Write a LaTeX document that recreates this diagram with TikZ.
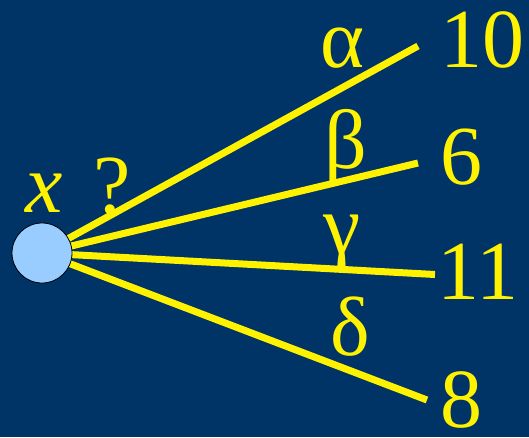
\documentclass[tikz,border=0pt]{standalone}
\usepackage{fontspec}
\setmainfont{Liberation Serif}
\usepackage{xcolor}
\definecolor{navy}{RGB}{0,51,102}
\definecolor{ballblue}{RGB}{153,204,255}

\begin{document}
\begin{tikzpicture}[x=1pt, y=-1pt,
  lbl/.style={text=yellow, font=\fontsize{84}{84}\selectfont, inner sep=0pt, anchor=base},
  edge/.style={draw=yellow, line width=7pt}]
  \fill[navy] (0,0) rectangle (529,437);
  \useasboundingbox (0,0) rectangle (529,437);

  \coordinate (ea) at (418,46);
  \coordinate (eb) at (418,163);
  \coordinate (ec) at (435,274.5);
  \coordinate (ed) at (427,400);

  \node[circle, minimum size=60pt, inner sep=0pt] (x) at (42,253) {};
  \draw[edge] (x.center) -- (ea);
  \draw[edge] (x.center) -- (eb);
  \draw[edge] (x.center) -- (ec);
  \draw[edge] (x.center) -- (ed);
  \draw[fill=ballblue, draw=black, line width=0.8pt] (x.center) circle (30pt);

  \node[lbl] (xlbl) at (44,212) {\itshape x};
  \node[lbl] (qlbl) at (112,213) {?};

  \node[lbl] (alpha) at (342,67) {α};
  \node[lbl] (beta) at (346,168) {β};
  \node[lbl] (gamma) at (342,253) {γ};
  \node[lbl] (delta) at (350,355) {δ};

  \node[lbl] (n10) at (482,67) {10};
  \node[lbl] (n6) at (461,184) {6};
  \node[lbl] (n11) at (478,299) {11};
  \node[lbl] (n8) at (461,427) {8};
\end{tikzpicture}
\end{document}
